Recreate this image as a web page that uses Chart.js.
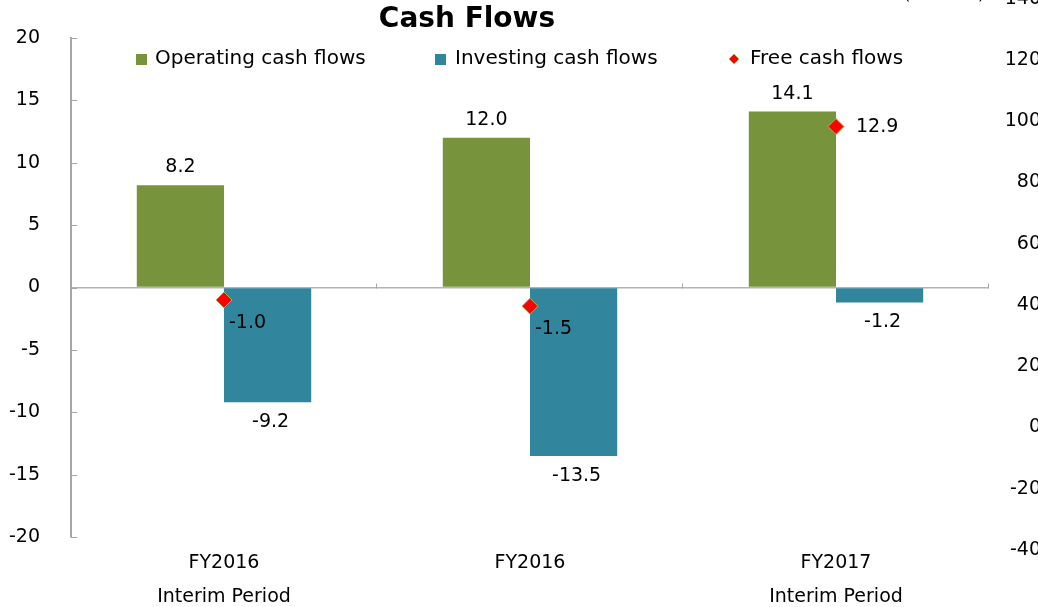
<!DOCTYPE html>
<html>
<head>
<meta charset="utf-8">
<script src="https://cdn.jsdelivr.net/npm/chart.js@4/dist/chart.umd.min.js"></script>
<style>
body { margin: 0; background: #fff; }
#wrap { width: 1038px; height: 607px; }
</style>
</head>
<body>
<div id="wrap"><canvas id="cash-chart"></canvas></div>
<script>
const categories = [['FY2016', 'Interim Period'], 'FY2016', ['FY2017', 'Interim Period']];
const operatingCF = [8.2, 12.0, 14.1];
const investingCF = [-9.2, -13.5, -1.2];
const freeCF = [-1.0, -1.5, 12.9];
const seriesNames = ['Operating cash flows', 'Investing cash flows', 'Free cash flows'];
const leftMin = -20, leftMax = 20, leftStep = 5;
const rightTicks = [140, 120, 100, 80, 60, 40, 20, 0, -20, -40];
const rightMin = -35.76, rightMax = 127.18;

const FONT = '"DejaVu Sans", Verdana, sans-serif';
const GREEN = '#77933C', BLUE = '#31859C', RED = '#FF0000';

function line(ctx, x1, y1, x2, y2) {
  ctx.beginPath(); ctx.moveTo(x1, y1); ctx.lineTo(x2, y2); ctx.stroke();
}

// ticks, value labels
const decorPlugin = {
  id: 'decor',
  afterLayout(chart) {
    // right axis labels run past the edge in the original
    chart.scales.y2.right += 3;
  },
  afterDatasetsDraw(chart) {
    const ctx = chart.ctx;
    const x = chart.scales.x, y = chart.scales.y;
    const zero = Math.round(y.getPixelForValue(0)) + 0.5;
    ctx.save();
    ctx.strokeStyle = '#a6a6a6';
    ctx.lineWidth = 1;
    y.ticks.forEach(t => {
      let py = Math.round(y.getPixelForValue(t.value)) + 0.5;
      line(ctx, x.left, py, x.left + 6, py);
    });
    let w = (x.right - x.left) / categories.length;
    for (let i = 1; i <= categories.length; i++) {
      let px = Math.round(x.left + i * w) - 0.5;
      line(ctx, px, zero - 5, px, zero);
    }

    ctx.font = '19px ' + FONT;
    ctx.fillStyle = '#000';
    ctx.textBaseline = 'middle';
    ctx.textAlign = 'center';
    chart.getDatasetMeta(0).data.forEach((bar, i) => {
      ctx.fillText(operatingCF[i].toFixed(1), bar.x, bar.y - 18);
    });
    chart.getDatasetMeta(1).data.forEach((bar, i) => {
      ctx.fillText(investingCF[i].toFixed(1), bar.x + 3, bar.y + 20);
    });
    ctx.textAlign = 'left';
    chart.getDatasetMeta(2).data.forEach((pt, i) => {
      if (freeCF[i] < 0) ctx.fillText(freeCF[i].toFixed(1), pt.x + 5, pt.y + 23);
      else ctx.fillText(freeCF[i].toFixed(1), pt.x + 20, pt.y);
    });
    ctx.restore();
  },
  afterDraw(chart) {
    const ctx = chart.ctx;
    ctx.save();
    ctx.fillStyle = '#000';
    ctx.textBaseline = 'middle';
    ctx.textAlign = 'center';
    ctx.font = 'bold 28px ' + FONT;
    ctx.fillText('Cash Flows', 467, 20);
    ctx.font = '16px ' + FONT;
    ctx.textAlign = 'left';
    ctx.fillText('(Forecast)', 904, -5);

    // legend
    ctx.font = '20px ' + FONT;
    let lx = [136, 435, 729];
    let ly = 59;
    ctx.fillStyle = GREEN; ctx.fillRect(lx[0], ly - 5, 11, 11);
    ctx.fillStyle = BLUE; ctx.fillRect(lx[1], ly - 5, 11, 11);
    ctx.fillStyle = RED; ctx.strokeStyle = '#9BBB59'; ctx.lineWidth = 1;
    ctx.beginPath();
    ctx.moveTo(lx[2] + 5, ly - 5); ctx.lineTo(lx[2] + 10, ly); ctx.lineTo(lx[2] + 5, ly + 5); ctx.lineTo(lx[2], ly);
    ctx.closePath(); ctx.fill(); ctx.stroke();
    ctx.fillStyle = '#000';
    ctx.fillText(seriesNames[0], lx[0] + 19, ly);
    ctx.fillText(seriesNames[1], lx[1] + 20, ly);
    ctx.fillText(seriesNames[2], lx[2] + 21, ly);
    ctx.restore();
  }
};

let ctx = document.getElementById('cash-chart').getContext('2d');
let chart = new Chart(ctx, {
  type: 'bar',
  data: {
    labels: categories,
    datasets: [{
      label: seriesNames[0],
      data: operatingCF,
      backgroundColor: GREEN,
      categoryPercentage: 0.57,
      barPercentage: 1,
      order: 1
    }, {
      label: seriesNames[1],
      data: investingCF,
      backgroundColor: BLUE,
      categoryPercentage: 0.57,
      barPercentage: 1,
      order: 1
    }, {
      type: 'line',
      label: seriesNames[2],
      data: freeCF,
      showLine: false,
      pointStyle: 'rectRot',
      pointRadius: 8,
      backgroundColor: RED,
      borderColor: '#9BBB59',
      borderWidth: 1,
      order: 0
    }]
  },
  options: {
    responsive: true,
    maintainAspectRatio: false,
    animation: false,
    layout: { padding: { top: 38, left: 0, right: 0, bottom: 0 } },
    plugins: {
      legend: { display: false },
      title: { display: false },
      tooltip: { enabled: false }
    },
    scales: {
      x: {
        grid: { display: false },
        border: { display: false },
        ticks: {
          color: '#000',
          font: { family: FONT, size: 19, lineHeight: 34 / 19 },
          padding: 1,
          autoSkip: false,
          maxRotation: 0
        },
        afterFit(s) { s.height = 70; s.paddingLeft = 0; s.paddingRight = 0; }
      },
      y: {
        min: leftMin,
        max: leftMax,
        ticks: {
          stepSize: leftStep,
          color: '#000',
          font: { family: FONT, size: 19 },
          padding: 31
        },
        grid: {
          drawTicks: false,
          color: c => (c.tick && c.tick.value === 0) ? '#b3b3b3' : 'transparent',
          lineWidth: 1.5
        },
        border: { color: '#a6a6a6', width: 2 },
        afterFit(s) { s.width = 71; s.paddingTop = 0; s.paddingBottom = 0; }
      },
      y2: {
        position: 'right',
        min: rightMin,
        max: rightMax,
        grid: { display: false, drawTicks: false },
        border: { display: false },
        afterBuildTicks(s) { s.ticks = rightTicks.map(v => ({ value: v })); },
        ticks: {
          color: '#000',
          font: { family: FONT, size: 19 },
          crossAlign: 'far',
          autoSkip: false
        },
        afterFit(s) { s.width = 49; s.paddingTop = 0; s.paddingBottom = 0; }
      }
    }
  },
  plugins: [decorPlugin]
});
</script>
</body>
</html>
